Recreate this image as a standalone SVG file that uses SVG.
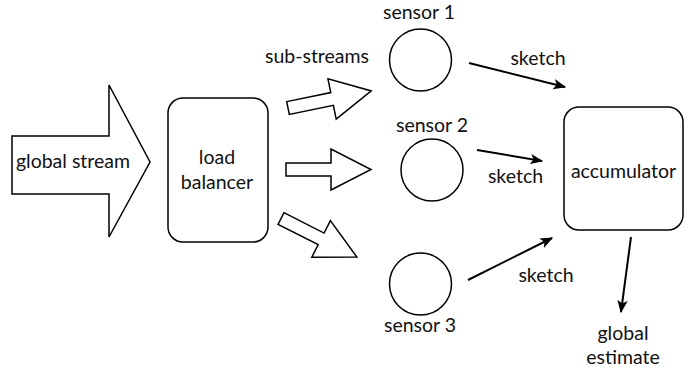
<svg xmlns="http://www.w3.org/2000/svg" width="697" height="371" viewBox="0 0 697 371">
<style>
text{font-family:Lato,"Open Sans",sans-serif;font-size:19.5px;fill:#111;text-anchor:middle}
.box{fill:#fff;stroke:#000;stroke-width:1.5}
.fat{fill:#fff;stroke:#000;stroke-width:1.5;stroke-linejoin:miter}
.ln{stroke:#000;stroke-width:2;fill:none}
</style>
<defs>
<marker id="ah" viewBox="0 0 10 10" refX="9" refY="5" markerWidth="6.5" markerHeight="6.5" markerUnits="strokeWidth" orient="auto">
<path d="M0,1 L10,5 L0,9 L2.5,5 Z" fill="#000"/>
</marker>
<path id="fatArrow" d="M0,-6.5 L45,-6.5 L45,-20.5 L85,0 L45,20.5 L45,6.5 L0,6.5 Z"/>
</defs>
<g id="global-stream">
<path class="fat" d="M12,136 L109,136 L109,85 L150,162 L109,237 L109,194 L12,194 Z"/>
<text x="73" y="168">global stream</text>
</g>
<g id="load-balancer">
<rect class="box" x="168" y="98" width="100" height="144" rx="15"/>
<text x="217" y="164">load</text>
<text x="217" y="189">balancer</text>
</g>
<g id="sensor1">
<circle class="box" cx="420.5" cy="60" r="31"/>
<text x="419" y="19">sensor 1</text>
</g>
<g id="sensor2">
<circle class="box" cx="432" cy="170" r="31"/>
<text x="432" y="132">sensor 2</text>
</g>
<g id="sensor3">
<circle class="box" cx="420.5" cy="284" r="31"/>
<text x="420" y="332">sensor 3</text>
</g>
<g id="accumulator">
<rect class="box" x="564" y="107" width="119" height="123" rx="15"/>
<text x="623.5" y="178">accumulator</text>
</g>
<g id="global-estimate">
<text x="623" y="340">global</text>
<text x="623" y="364">estimate</text>
</g>
<g id="connectors">
<use href="#fatArrow" class="fat" transform="translate(288,108) rotate(-11.6)"/>
<use href="#fatArrow" class="fat" transform="translate(286,169.5)"/>
<use href="#fatArrow" class="fat" transform="translate(281,218.5) rotate(26.9)"/>
<text x="317" y="63">sub-streams</text>
<line class="ln" x1="469" y1="63" x2="565" y2="87" marker-end="url(#ah)"/>
<text x="538" y="65">sketch</text>
<line class="ln" x1="477" y1="150" x2="542" y2="161" marker-end="url(#ah)"/>
<text x="515.5" y="183">sketch</text>
<line class="ln" x1="468" y1="280" x2="552" y2="238" marker-end="url(#ah)"/>
<text x="546" y="282">sketch</text>
<line class="ln" x1="631" y1="237" x2="621" y2="312" marker-end="url(#ah)"/>
</g>
</svg>
